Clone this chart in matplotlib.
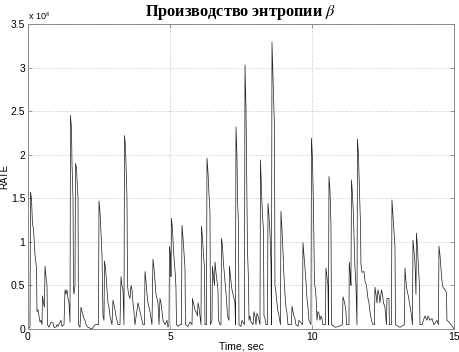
import matplotlib
matplotlib.use("Agg")
import matplotlib.pyplot as plt

time_sec = [
    0.000, 0.070, 0.088, 0.123, 0.158, 0.194, 0.246, 0.299, 0.317, 0.352,
    0.387, 0.423, 0.458, 0.493, 0.511, 0.546, 0.581, 0.599, 0.634, 0.669,
    0.687, 0.739, 0.810, 0.880, 0.915, 0.986, 1.021, 1.056, 1.127, 1.162,
    1.197, 1.268, 1.303, 1.338, 1.373, 1.408, 1.444, 1.479, 1.496, 1.532,
    1.549, 1.585, 1.602, 1.620, 1.655, 1.673, 1.708, 1.743, 1.761, 1.778,
    1.831, 1.866, 1.901, 1.972, 2.007, 2.042, 2.113, 2.254, 2.359, 2.430,
    2.482, 2.500, 2.535, 2.570, 2.606, 2.641, 2.676, 2.694, 2.729, 2.764,
    2.782, 2.817, 2.852, 2.887, 2.923, 2.958, 2.993, 3.028, 3.063, 3.099,
    3.134, 3.169, 3.239, 3.275, 3.310, 3.345, 3.380, 3.398, 3.433, 3.451,
    3.486, 3.504, 3.539, 3.592, 3.627, 3.662, 3.697, 3.732, 3.768, 3.873,
    3.908, 3.979, 4.014, 4.049, 4.102, 4.120, 4.155, 4.190, 4.225, 4.261,
    4.296, 4.366, 4.401, 4.437, 4.472, 4.507, 4.542, 4.577, 4.613, 4.648,
    4.683, 4.718, 4.754, 4.824, 4.894, 4.930, 4.965, 4.982, 5.018, 5.035,
    5.053, 5.088, 5.123, 5.158, 5.194, 5.211, 5.229, 5.282, 5.352, 5.405,
    5.423, 5.458, 5.493, 5.528, 5.546, 5.634, 5.704, 5.775, 5.792, 5.827,
    5.880, 5.915, 5.968, 5.986, 6.021, 6.056, 6.092, 6.109, 6.144, 6.180,
    6.215, 6.232, 6.285, 6.303, 6.338, 6.373, 6.408, 6.426, 6.479, 6.496,
    6.532, 6.567, 6.585, 6.620, 6.655, 6.690, 6.708, 6.761, 6.796, 6.813,
    6.849, 6.884, 6.937, 6.989, 7.025, 7.077, 7.095, 7.130, 7.183, 7.218,
    7.254, 7.289, 7.306, 7.324, 7.359, 7.377, 7.412, 7.430, 7.500, 7.535,
    7.623, 7.641, 7.676, 7.694, 7.711, 7.729, 7.764, 7.782, 7.817, 7.852,
    7.923, 7.958, 7.993, 8.028, 8.063, 8.099, 8.134, 8.169, 8.187, 8.222,
    8.257, 8.292, 8.310, 8.345, 8.380, 8.433, 8.451, 8.486, 8.521, 8.556,
    8.574, 8.592, 8.627, 8.644, 8.680, 8.697, 8.732, 8.768, 8.803, 8.838,
    8.873, 8.891, 8.908, 8.944, 8.979, 9.014, 9.049, 9.085, 9.120, 9.155,
    9.278, 9.296, 9.331, 9.366, 9.401, 9.437, 9.507, 9.542, 9.665, 9.683,
    9.718, 9.754, 9.789, 9.824, 9.859, 9.894, 9.965, 9.982, 10.018, 10.053,
    10.088, 10.123, 10.158, 10.176, 10.211, 10.246, 10.282, 10.317, 10.352, 10.387,
    10.475, 10.493, 10.528, 10.563, 10.581, 10.599, 10.634, 10.669, 10.687, 10.810,
    10.951, 11.074, 11.092, 11.127, 11.162, 11.197, 11.215, 11.303, 11.313, 11.356,
    11.373, 11.391, 11.426, 11.461, 11.496, 11.514, 11.549, 11.585, 11.602, 11.637,
    11.673, 11.708, 11.725, 11.761, 11.831, 11.866, 11.919, 11.972, 12.007, 12.042,
    12.095, 12.148, 12.201, 12.218, 12.254, 12.289, 12.324, 12.359, 12.394, 12.447,
    12.482, 12.518, 12.570, 12.623, 12.641, 12.711, 12.729, 12.799, 12.817, 12.852,
    12.887, 12.923, 12.940, 13.099, 13.257, 13.275, 13.310, 13.345, 13.380, 13.433,
    13.486, 13.539, 13.556, 13.592, 13.627, 13.662, 13.680, 13.715, 13.750, 13.785,
    13.803, 13.873, 13.979, 14.049, 14.085, 14.155, 14.225, 14.296, 14.401, 14.454,
    14.472, 14.507, 14.542, 14.577, 14.613, 14.683, 14.736, 14.754, 14.824, 14.894,
    14.965, 15.000,
]
rate = [
    0.00, 0.02, 1.57, 1.50, 1.20, 1.15, 0.85, 0.70, 0.20, 0.22,
    0.15, 0.08, 0.10, 0.05, 0.38, 0.30, 0.25, 0.72, 0.60, 0.50,
    0.05, 0.02, 0.08, 0.07, 0.02, 0.02, 0.05, 0.03, 0.08, 0.10,
    0.03, 0.05, 0.45, 0.40, 0.45, 0.35, 0.30, 0.08, 2.45, 2.30,
    1.90, 1.50, 0.45, 0.40, 0.50, 1.90, 1.85, 1.60, 1.50, 0.05,
    0.02, 0.25, 0.20, 0.12, 0.10, 0.05, 0.02, 0.00, 0.05, 0.05,
    0.05, 1.47, 1.35, 1.10, 0.85, 0.15, 0.10, 0.78, 0.70, 0.55,
    0.45, 0.30, 0.25, 0.15, 0.10, 0.05, 0.33, 0.28, 0.22, 0.15,
    0.10, 0.05, 0.05, 0.60, 0.50, 0.45, 0.05, 2.22, 2.10, 1.90,
    1.50, 0.50, 0.40, 0.35, 0.50, 0.45, 0.30, 0.20, 0.05, 0.30,
    0.25, 0.15, 0.10, 0.05, 0.05, 0.66, 0.55, 0.40, 0.30, 0.25,
    0.20, 0.05, 0.80, 0.70, 0.55, 0.40, 0.35, 0.30, 0.05, 0.35,
    0.30, 0.20, 0.10, 0.05, 0.10, 0.02, 0.05, 0.95, 0.85, 0.60,
    1.27, 1.15, 0.90, 0.75, 0.60, 0.46, 0.05, 0.03, 0.05, 0.05,
    1.19, 1.05, 0.87, 0.70, 0.05, 0.03, 0.08, 0.05, 0.35, 0.30,
    0.22, 0.20, 0.15, 0.30, 0.25, 0.15, 0.05, 1.18, 1.05, 0.85,
    0.70, 0.05, 0.05, 1.96, 1.80, 1.55, 1.35, 0.05, 0.10, 0.72,
    0.60, 0.50, 0.77, 0.65, 0.55, 0.45, 0.10, 0.05, 0.05, 1.04,
    0.95, 0.75, 0.55, 0.35, 0.15, 0.10, 0.72, 0.60, 0.45, 0.40,
    0.35, 0.30, 0.05, 2.32, 2.00, 1.50, 1.20, 0.05, 0.03, 0.10,
    0.05, 3.03, 2.55, 2.00, 1.50, 0.91, 0.56, 0.10, 0.15, 0.08,
    0.05, 0.20, 0.15, 0.05, 0.18, 0.15, 0.10, 0.05, 1.94, 1.60,
    1.30, 1.14, 0.15, 0.12, 0.05, 0.05, 1.44, 1.30, 1.10, 0.76,
    0.05, 3.29, 2.90, 2.71, 2.30, 0.50, 0.42, 0.30, 0.20, 0.15,
    0.08, 0.05, 1.35, 1.15, 0.90, 0.60, 0.40, 0.25, 0.18, 0.05,
    0.05, 0.26, 0.20, 0.15, 0.12, 0.05, 0.03, 0.10, 0.05, 0.99,
    0.85, 0.70, 0.55, 0.35, 0.25, 0.10, 0.05, 2.19, 1.95, 1.40,
    0.53, 0.45, 0.30, 0.10, 0.20, 0.18, 0.10, 0.15, 0.12, 0.05,
    0.05, 0.70, 0.60, 0.50, 0.05, 1.75, 1.60, 1.20, 0.05, 0.02,
    0.03, 0.05, 0.37, 0.33, 0.28, 0.20, 0.05, 0.05, 0.77, 0.60,
    0.50, 1.71, 1.55, 1.30, 0.90, 0.70, 0.50, 0.05, 2.18, 2.00,
    1.60, 1.20, 0.74, 0.65, 0.66, 0.55, 0.50, 0.35, 0.30, 0.20,
    0.10, 0.05, 0.05, 0.48, 0.40, 0.30, 0.45, 0.40, 0.30, 0.45,
    0.40, 0.30, 0.25, 0.05, 0.35, 0.35, 0.05, 0.05, 1.48, 1.30,
    1.10, 0.95, 0.05, 0.02, 0.05, 0.70, 0.55, 0.45, 0.40, 0.30,
    0.20, 0.05, 1.02, 0.90, 0.75, 0.40, 1.10, 0.95, 0.70, 0.50,
    0.05, 0.05, 0.15, 0.10, 0.15, 0.10, 0.12, 0.05, 0.10, 0.05,
    0.95, 0.85, 0.70, 0.55, 0.48, 0.45, 0.42, 0.10, 0.08, 0.05,
    0.02, 0.00,
]

x_ticks = [0, 5, 10, 15]
y_ticks = [0, 0.5, 1, 1.5, 2, 2.5, 3, 3.5]
y_tick_labels = ["0", "0.5", "1", "1.5", "2", "2.5", "3", "3.5"]

plt.rcParams["font.family"] = ["Liberation Sans", "DejaVu Sans"]
plt.rcParams["mathtext.fontset"] = "stix"

fig = plt.figure(figsize=(4.59, 3.52), dpi=100)
ax = fig.add_axes([0.061, 0.0653, 0.928, 0.8667])

ax.plot(time_sec, rate, color="#1a1a1a", linewidth=0.5)

ax.set_xlim(0, 15)
ax.set_ylim(0, 3.5)
ax.set_xticks(x_ticks)
ax.set_xticklabels([str(v) for v in x_ticks])
ax.set_yticks(y_ticks)
ax.set_yticklabels(y_tick_labels)
ax.tick_params(direction="in", length=3, width=0.6, color="#888888",
               labelsize=7.5, top=True, right=True, pad=2)
ax.grid(True, linestyle=(0, (1, 2)), color="#b0b0b0", linewidth=0.6)
for sp in ax.spines.values():
    sp.set_color("#888888")
    sp.set_linewidth(0.7)

ax.set_xlabel("Time, sec", fontsize=7.5, labelpad=0)
ax.set_ylabel("RATE", fontsize=7)
ax.yaxis.set_label_coords(-0.044, 0.5)
ax.set_title(r"Производство энтропии $\beta$", fontsize=11.7, fontweight="bold",
             family=["Liberation Serif", "DejaVu Serif"], pad=6)
ax.text(0.0, 1.005, r"x 10$^{8}$", transform=ax.transAxes, fontsize=6.5,
        ha="left", va="bottom")

fig.savefig("out.png", dpi=100)
